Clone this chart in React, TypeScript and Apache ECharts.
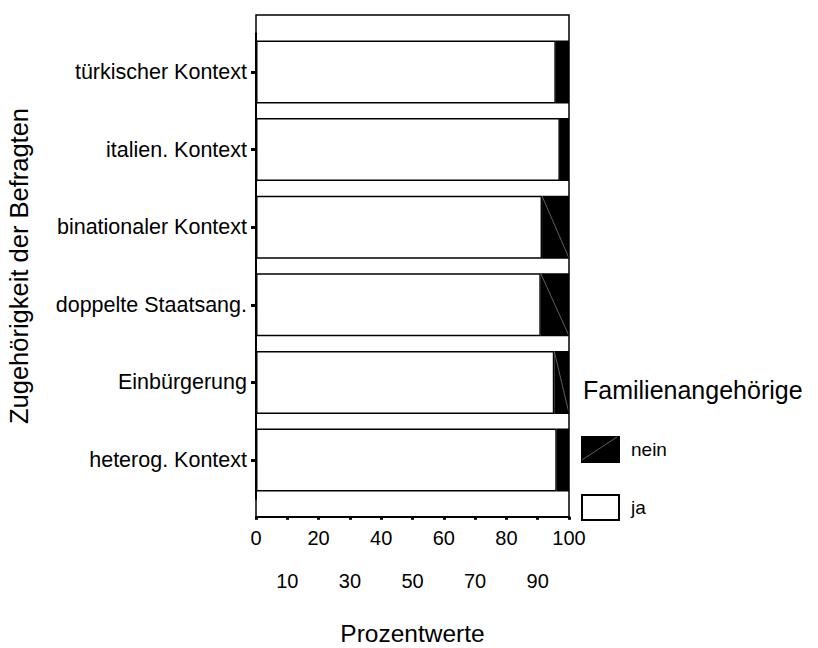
import React, { useEffect, useRef } from "react";
import * as echarts from "echarts";

const categories = [
  "heterog. Kontext",
  "Einbürgerung",
  "doppelte Staatsang.",
  "binationaler Kontext",
  "italien. Kontext",
  "türkischer Kontext",
];
const jaValues = [96.1, 95.3, 91.0, 91.4, 97.1, 95.8];
const neinValues = [3.9, 4.7, 9.0, 8.6, 2.9, 4.2];
// bars whose black segment shows a thin diagonal line in the original
const diagonalBars = ["Einbürgerung", "doppelte Staatsang.", "binationaler Kontext"];

const FONT = "Liberation Sans, Arial, sans-serif";

export default function App() {
  const ref = useRef<HTMLDivElement>(null);
  useEffect(() => {
    if (!ref.current) return;
    const chart = echarts.init(ref.current, null, { renderer: "svg" });
    const diagData = categories
      .map((c, i) => (diagonalBars.includes(c) ? [jaValues[i], i, jaValues[i] + neinValues[i]] : null))
      .filter((d) => d !== null);
    chart.setOption({
      animation: false,
      backgroundColor: "#fff",
      textStyle: { fontFamily: FONT, color: "#000" },
      title: {
        text: "Familienangehörige",
        left: 578,
        top: 372,
        textStyle: { fontFamily: FONT, fontSize: 25, fontWeight: "normal", color: "#000" },
      },
      legend: {
        orient: "vertical",
        left: 576,
        top: 431,
        padding: 5,
        itemWidth: 37,
        itemHeight: 25,
        itemGap: 31,
        icon: "rect",
        data: ["nein", "ja"],
        textStyle: { fontFamily: FONT, fontSize: 19, lineHeight: 25, color: "#000", padding: [0, 0, 0, 7] },
      },
      grid: { left: 256, top: 33.2, width: 313, height: 465.6, outerBoundsMode: "none", containLabel: false },
      xAxis: {
        type: "value",
        min: 0,
        max: 100,
        interval: 10,
        offset: 18,
        name: "Prozentwerte",
        nameLocation: "middle",
        nameGap: 104,
        nameTextStyle: { fontFamily: FONT, fontSize: 24.5, color: "#000", verticalAlign: "top" },
        axisLine: { show: true, lineStyle: { color: "#000", width: 2 } },
        axisTick: { show: true, length: 3, lineStyle: { color: "#000", width: 3 } },
        axisLabel: {
          margin: 0,
          fontFamily: FONT,
          fontSize: 20,
          color: "#000",
          lineHeight: 43,
          formatter: (v: number) => (v % 20 === 0 ? String(v) : "\n" + v),
        },
        splitLine: { show: false },
      },
      yAxis: {
        type: "category",
        data: categories,
        name: "Zugehörigkeit der Befragten",
        nameLocation: "middle",
        nameGap: 224,
        nameTextStyle: { fontFamily: FONT, fontSize: 25.5, color: "#000" },
        axisLine: { show: true, lineStyle: { color: "#000", width: 2 } },
        axisTick: { show: true, alignWithLabel: true, length: 5, lineStyle: { color: "#000", width: 3 } },
        axisLabel: { margin: 9, fontFamily: FONT, fontSize: 21.5, color: "#000" },
      },
      graphic: [
        {
          type: "rect",
          shape: { x: 256, y: 15, width: 313, height: 502 },
          style: { fill: "none", stroke: "#000", lineWidth: 1.5 },
          z: 10,
          silent: true,
        },
        {
          type: "line",
          shape: { x1: 582, y1: 460, x2: 617, y2: 437 },
          style: { stroke: "#777", lineWidth: 0.8 },
          z: 100,
          silent: true,
        },
      ],
      series: [
        {
          name: "ja",
          type: "bar",
          stack: "total",
          barWidth: 63,
          data: jaValues,
          itemStyle: { color: "#fff", borderColor: "#000", borderWidth: 1.5 },
        },
        {
          name: "nein",
          type: "bar",
          stack: "total",
          barWidth: 63,
          data: neinValues,
          itemStyle: { color: "#000", borderColor: "#000", borderWidth: 1.5 },
        },
        {
          type: "custom",
          silent: true,
          z: 5,
          encode: { x: [0, 2], y: 1 },
          data: diagData,
          renderItem: (_params: any, api: any) => {
            const a = api.coord([api.value(0), api.value(1)]);
            const b = api.coord([api.value(2), api.value(1)]);
            return {
              type: "line",
              shape: { x1: a[0], y1: a[1] - 31, x2: b[0], y2: b[1] + 31 },
              style: { stroke: "#777", lineWidth: 0.8 },
            };
          },
        },
      ],
    });
    return () => chart.dispose();
  }, []);
  return (
    <div
      ref={ref}
      style={{ position: "fixed", left: 0, top: 0, width: 818, height: 648 }}
    />
  );
}
